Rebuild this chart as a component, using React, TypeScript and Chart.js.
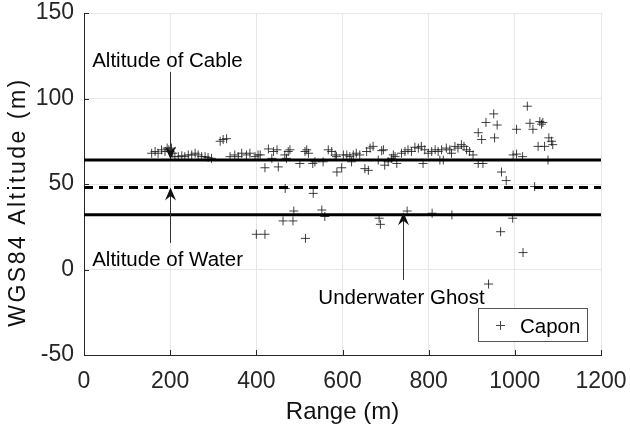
import { useEffect, useRef } from "react";
import { Chart, registerables } from "chart.js";

Chart.register(...registerables);

const X_TICKS = [0, 200, 400, 600, 800, 1000, 1200];
const Y_TICKS = [-50, 0, 50, 100, 150];
const X_TITLE = "Range (m)";
const Y_TITLE = "WGS84 Altitude (m)";

// Capon estimates: range (m) and WGS84 altitude (m)
const CAPON_RANGE = [
  157, 165, 172, 180, 188, 193, 197, 200, 203, 206, 211, 219, 227, 234, 242, 250, 258, 265, 273, 281, 288, 296,
  316, 323, 331, 339, 350, 358, 366, 377, 385, 397, 404, 409,
  428, 436, 440, 448, 420, 451, 466, 474, 478, 470, 501, 513, 517, 521, 531, 536, 555, 567, 575, 583, 586, 587, 598,
  602, 610, 617, 625, 632, 640, 621, 656, 664, 652, 660,
  671, 683, 691, 695, 698, 706, 714, 718, 722, 726, 737, 745, 752, 760, 768, 776, 783, 787, 791, 799, 807, 815, 822,
  830, 826, 834, 841, 849, 853, 861, 868, 876, 882, 888, 895, 903, 915, 926,
  915, 923, 933, 951, 959, 953, 969, 980, 996, 1004, 1018, 1004, 1029, 1035, 1042, 1058, 1062, 1065, 1054, 1069,
  1079, 1085, 1088, 1077, 1046,
  467, 532, 400, 420, 462, 485, 487, 514, 552, 559, 685, 688, 750, 808, 854, 995, 967, 1019, 939,
];
const CAPON_ALT = [
  68, 69, 68, 70, 69, 71, 70, 69, 71, 68, 66, 66, 66.5, 66, 67, 67, 68, 67, 66, 66, 65.5, 65,
  75, 76, 76.5, 66, 67, 66, 68, 67, 68, 66, 67, 67,
  70.5, 65, 69, 70, 59.5, 60, 67, 69, 70, 65, 62, 69, 70, 68, 62, 63, 63, 70, 69, 67, 66, 57, 59.5,
  67, 67, 66, 67, 68, 67, 63, 69, 71, 59, 58,
  72, 64, 69.5, 70, 61, 63, 65, 67, 66, 62, 68, 69, 70, 69, 71.5, 71, 72, 62, 70, 68, 69, 70, 69,
  70, 64, 64, 71, 70, 68, 72, 71, 73, 72, 70, 69, 67, 62, 62,
  80, 76, 86, 91, 84.5, 77, 57, 52, 67, 67.5, 66, 82, 95.5, 85.5, 82, 86.5, 85, 86, 72, 72,
  77, 75, 73, 64, 48.5,
  47.4, 44.5, 20.6, 20.6, 28.4, 28.4, 34.2, 18.2, 34.8, 31, 30, 26.4, 34.2, 32.9, 31.9, 30, 22.1, 9.9, -8.5,
];

const CABLE_ALT = 64;
const WATER_ALT = 48;
const GHOST_ALT = 32;
const RANGE_SPAN = [0, 1200];

const ANNOTATIONS = [
  { text: "Altitude of Cable", textX: 19, textY: 118.7, align: "left", arrowX: 200, fromY: 115.5, toY: 64.3 },
  { text: "Altitude of Water", textX: 19, textY: 2.2, align: "left", arrowX: 200, fromY: 15.6, toY: 48 },
  { text: "Underwater Ghost", textX: 737, textY: -20.2, align: "center", arrowX: 741, fromY: -6.1, toY: 33.5 },
];

const FONT = '"Liberation Sans", Arial, sans-serif';
const INK = "#262626";

function drawArrow(ctx: CanvasRenderingContext2D, x: number, y0: number, y1: number) {
  const dir = y1 > y0 ? 1 : -1;
  const L = 13;
  const W = 5.5;
  const notch = 4.5;
  ctx.save();
  ctx.strokeStyle = "#333";
  ctx.lineWidth = 1;
  ctx.beginPath();
  ctx.moveTo(x, y0);
  ctx.lineTo(x, y1 - dir * (L - notch));
  ctx.stroke();
  ctx.fillStyle = "#111";
  ctx.beginPath();
  ctx.moveTo(x, y1);
  ctx.lineTo(x - W, y1 - dir * L);
  ctx.lineTo(x, y1 - dir * (L - notch));
  ctx.lineTo(x + W, y1 - dir * L);
  ctx.closePath();
  ctx.fill();
  ctx.restore();
}

function drawCross(ctx: CanvasRenderingContext2D, x: number, y: number, r: number) {
  ctx.beginPath();
  ctx.moveTo(x - r, y);
  ctx.lineTo(x + r, y);
  ctx.moveTo(x, y - r);
  ctx.lineTo(x, y + r);
  ctx.stroke();
}

const overlayPlugin = {
  id: "overlay",
  afterDatasetsDraw(chart: any) {
    const { ctx, chartArea, scales } = chart;
    const xs = scales.x;
    const ys = scales.y;
    ctx.save();
    // inward tick marks
    ctx.strokeStyle = INK;
    ctx.lineWidth = 1;
    X_TICKS.forEach((v) => {
      const px = Math.round(xs.getPixelForValue(v)) + 0.5;
      ctx.beginPath();
      ctx.moveTo(px, chartArea.bottom);
      ctx.lineTo(px, chartArea.bottom - 5);
      ctx.stroke();
    });
    Y_TICKS.forEach((v) => {
      const py = Math.round(ys.getPixelForValue(v)) + 0.5;
      ctx.beginPath();
      ctx.moveTo(chartArea.left, py);
      ctx.lineTo(chartArea.left + 5, py);
      ctx.stroke();
    });
    // y axis title (MATLAB-style loose rotated text)
    ctx.save();
    ctx.translate(19, (chartArea.top + chartArea.bottom) / 2 + 18);
    ctx.rotate(-Math.PI / 2);
    ctx.font = `23px ${FONT}`;
    (ctx as any).letterSpacing = "2.5px";
    ctx.fillStyle = "#111";
    ctx.textAlign = "center";
    ctx.textBaseline = "middle";
    ctx.fillText(Y_TITLE, 0, 0);
    ctx.restore();
    // annotations
    ctx.font = `20.5px ${FONT}`;
    ctx.fillStyle = "#000";
    ctx.textBaseline = "alphabetic";
    ANNOTATIONS.forEach((a) => {
      ctx.textAlign = a.align as CanvasTextAlign;
      ctx.fillText(a.text, xs.getPixelForValue(a.textX), ys.getPixelForValue(a.textY));
      const ax = Math.round(xs.getPixelForValue(a.arrowX)) + 0.5;
      drawArrow(ctx, ax, ys.getPixelForValue(a.fromY), ys.getPixelForValue(a.toY));
    });
    // legend box
    const bx = chartArea.right - 123;
    const by = chartArea.bottom - 47;
    const bw = 109;
    const bh = 33;
    ctx.fillStyle = "#fff";
    ctx.fillRect(bx, by, bw, bh);
    ctx.strokeStyle = "#555";
    ctx.lineWidth = 1;
    ctx.strokeRect(Math.round(bx) + 0.5, Math.round(by) + 0.5, bw, bh);
    ctx.strokeStyle = "#444";
    drawCross(ctx, bx + 22.5, by + 17.5, 4.5);
    ctx.fillStyle = "#000";
    ctx.textAlign = "left";
    ctx.fillText("Capon", bx + 42, by + 25);
    ctx.restore();
  },
};

export default function App() {
  const ref = useRef<HTMLCanvasElement | null>(null);
  useEffect(() => {
    if (!ref.current) return;
    const points = CAPON_RANGE.map((x, i) => ({ x, y: CAPON_ALT[i] }));
    const hline = (v: number) => RANGE_SPAN.map((x) => ({ x, y: v }));
    const chart = new Chart(ref.current, {
      type: "scatter",
      data: {
        datasets: [
          {
            type: "line",
            label: "Cable",
            data: hline(CABLE_ALT),
            borderColor: "#000",
            borderWidth: 3,
            pointRadius: 0,
          } as any,
          {
            type: "line",
            label: "Water",
            data: hline(WATER_ALT),
            borderColor: "#000",
            borderWidth: 3,
            borderDash: [9, 6],
            pointRadius: 0,
          } as any,
          {
            type: "line",
            label: "Ghost",
            data: hline(GHOST_ALT),
            borderColor: "#000",
            borderWidth: 3,
            pointRadius: 0,
          } as any,
          {
            label: "Capon",
            data: points,
            pointStyle: "cross",
            pointRadius: 4.5,
            pointBorderWidth: 1,
            borderColor: "rgba(30,30,30,0.85)",
            backgroundColor: "rgba(30,30,30,0.85)",
          },
        ],
      },
      options: {
        animation: false,
        responsive: false,
        layout: { padding: { left: 0, right: 29, top: 13, bottom: 0 } },
        plugins: { legend: { display: false }, tooltip: { enabled: false } },
        scales: {
          x: {
            type: "linear",
            min: 0,
            max: 1200,
            afterBuildTicks: (s: any) => {
              s.ticks = X_TICKS.map((v) => ({ value: v }));
            },
            afterFit: (s: any) => {
              s.height = 75;
              s.paddingLeft = 0;
              s.paddingRight = 0;
            },
            grid: { color: "#e6e6e6", drawTicks: false },
            border: { display: true, color: INK, width: 1 },
            ticks: {
              padding: 13,
              color: INK,
              font: { family: FONT, size: 23 },
              maxRotation: 0,
              callback: (v: any) => String(v),
            },
            title: {
              display: true,
              text: X_TITLE,
              color: "#111",
              font: { family: FONT, size: 24 },
              padding: { top: 0, bottom: 3 },
            },
          },
          y: {
            type: "linear",
            min: -50,
            max: 150,
            afterBuildTicks: (s: any) => {
              s.ticks = Y_TICKS.map((v) => ({ value: v }));
            },
            afterFit: (s: any) => {
              s.width = 84;
              s.paddingTop = 0;
              s.paddingBottom = 0;
            },
            grid: { color: "#e6e6e6", drawTicks: false },
            border: { display: true, color: INK, width: 1 },
            ticks: { padding: 10, color: INK, font: { family: FONT, size: 23 }, callback: (v: any) => String(v) },
            title: { display: false },
          },
        },
      },
      plugins: [overlayPlugin],
    });
    return () => chart.destroy();
  }, []);
  return (
    <div style={{ position: "fixed", left: 0, top: 0, width: 630, height: 430, background: "#fff" }}>
      <canvas ref={ref} width={630} height={430} style={{ width: 630, height: 430, display: "block" }} />
    </div>
  );
}
